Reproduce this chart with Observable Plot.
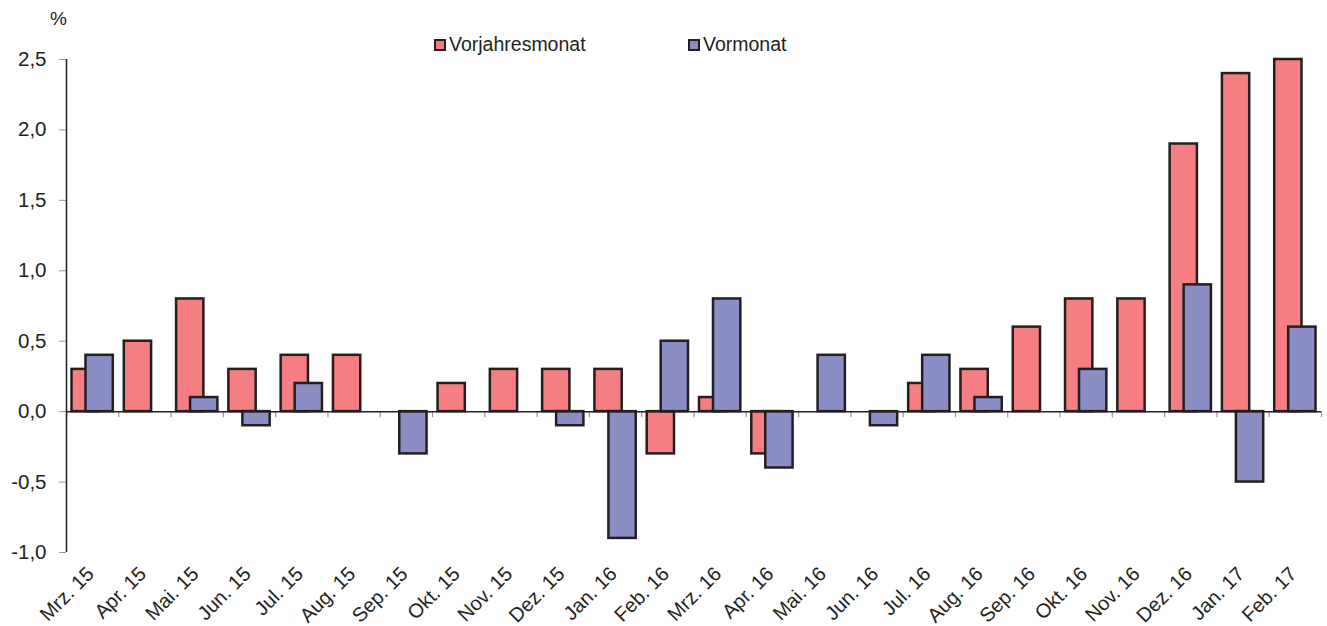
<!DOCTYPE html>
<html>
<head>
<meta charset="utf-8">
<script src="https://cdn.jsdelivr.net/npm/d3@7"></script>
<script src="https://cdn.jsdelivr.net/npm/@observablehq/plot@0.6"></script>
<style>
  body { margin: 0; background: #fff; font-family: "Liberation Sans", Arial, sans-serif; color: #231F20; }
  #wrap { position: relative; width: 1327px; height: 626px; }
  #pct { position: absolute; left: 50px; top: 8px; font-size: 19px; }
  .leg { position: absolute; top: 33px; font-size: 19.5px; display: flex; align-items: center; }
  .sw { width: 8px; height: 8px; border: 2px solid #231F20; margin-right: 3px; }
</style>
</head>
<body>
<div id="wrap">
  <div id="pct">%</div>
  <div class="leg" style="left:434px"><span class="sw" style="background:#F57E82"></span>Vorjahresmonat</div>
  <div class="leg" style="left:688px"><span class="sw" style="background:#8B8EC5"></span>Vormonat</div>
</div>
<script>
const months = ["Mrz. 15","Apr. 15","Mai. 15","Jun. 15","Jul. 15","Aug. 15","Sep. 15","Okt. 15","Nov. 15","Dez. 15","Jan. 16","Feb. 16","Mrz. 16","Apr. 16","Mai. 16","Jun. 16","Jul. 16","Aug. 16","Sep. 16","Okt. 16","Nov. 16","Dez. 16","Jan. 17","Feb. 17"];
const vorjahresmonat = [0.3,0.5,0.8,0.3,0.4,0.4,0.0,0.2,0.3,0.3,0.3,-0.3,0.1,-0.3,0.0,0.0,0.2,0.3,0.6,0.8,0.8,1.9,2.4,2.5];
const vormonat = [0.4,0.0,0.1,-0.1,0.2,0.0,-0.3,0.0,0.0,-0.1,-0.9,0.5,0.8,-0.4,0.4,-0.1,0.4,0.1,0.0,0.3,0.0,0.9,-0.5,0.6];
const yTicks = [-1,-0.5,0,0.5,1,1.5,2,2.5];

const red = months.map((m,i)=>({month:m, value:vorjahresmonat[i]})).filter(d=>d.value!==0);
const blue = months.map((m,i)=>({month:m, value:vormonat[i]})).filter(d=>d.value!==0);

const W = 1327, H = 626, ML = 66, MR = 6, MT = 59, MB = 74;
const half = (W - ML - MR) / months.length / 2;
const fmt = d => d3.format(".1f")(d).replace(".", ",").replace("\u2212", "-");

const chart = Plot.plot({
  width: W, height: H,
  marginLeft: ML, marginRight: MR, marginTop: MT, marginBottom: MB,
  style: {fontFamily: "Liberation Sans, Arial, sans-serif", fontSize: "19px", color: "#231F20", background: "transparent", overflow: "visible"},
  x: {domain: months, padding: 0, round: false, label: null},
  y: {domain: [-1, 2.5], label: null},
  marks: [
    Plot.axisY({ticks: yTicks, tickSize: 7, stroke: "#999", text: null, label: null}),
    Plot.axisY({ticks: yTicks, tickSize: 0, tickPadding: 20, tickFormat: fmt, fill: "#231F20", fontSize: 20.5, label: null}),
    Plot.axisX({tickSize: 0, tickRotate: -45, tickPadding: 18, dx: -2, fill: "#231F20", fontSize: 20, label: null}),
    Plot.ruleX(months, {x: d=>d, dx: -half, y1: 0, y2: 0, insetBottom: -6, stroke: "#999", strokeWidth: 1.2}),
    Plot.ruleX([months[months.length-1]], {x: d=>d, dx: half, y1: 0, y2: 0, insetBottom: -6, stroke: "#999", strokeWidth: 1.2}),
    Plot.barY(red, {x: "month", y: "value", fill: "#F57E82", stroke: "#231F20", strokeWidth: 2.5, insetLeft: 5.5, insetRight: 19.5}),
    Plot.barY(blue, {x: "month", y: "value", fill: "#8B8EC5", stroke: "#231F20", strokeWidth: 2.5, insetLeft: 19.5, insetRight: 5.5}),
    Plot.ruleY([0], {stroke: "#231F20", strokeWidth: 1.5}),
    Plot.ruleX([months[0]], {x: d=>d, dx: -half, stroke: "#231F20", strokeWidth: 1.5})
  ]
});
chart.style.position = "absolute";
chart.style.left = "0px";
chart.style.top = "0px";
document.getElementById("wrap").prepend(chart);
</script>
</body>
</html>
